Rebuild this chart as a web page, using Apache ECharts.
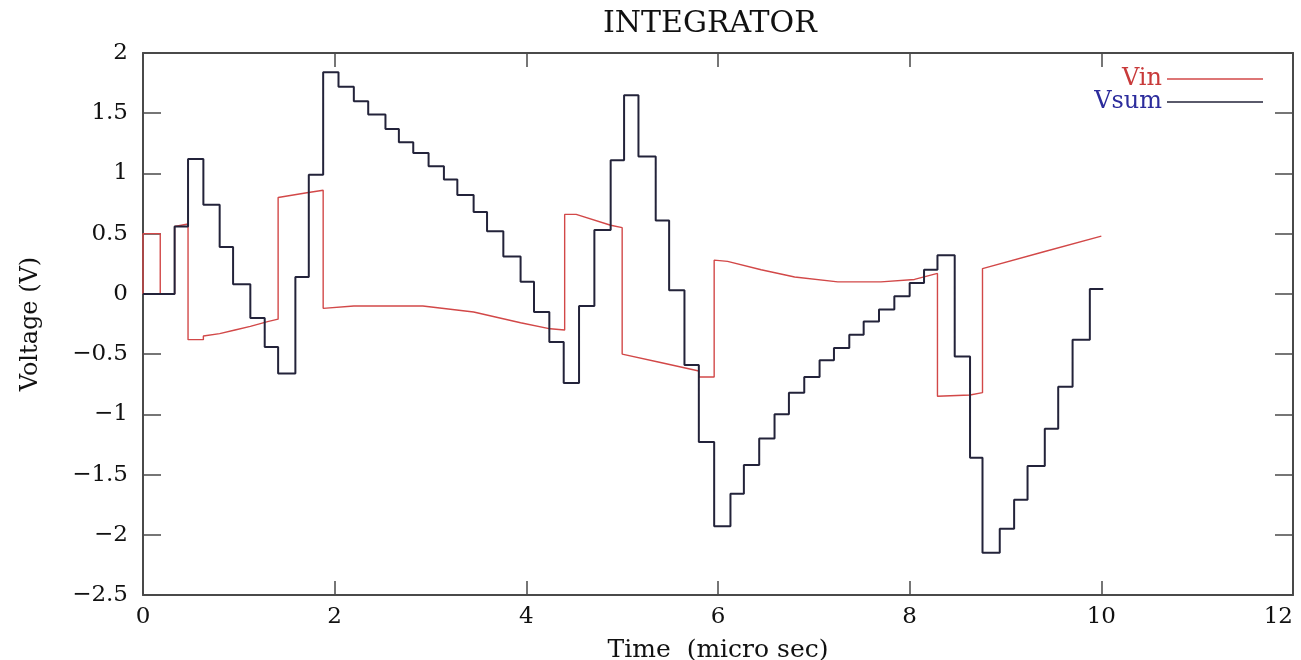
<!DOCTYPE html>
<html>
<head>
<meta charset="utf-8">
<script src="https://cdn.jsdelivr.net/npm/echarts@6/dist/echarts.min.js"></script>
<style>
html,body{margin:0;padding:0;background:#fff;}
#chart{width:1301px;height:660px;}
</style>
</head>
<body>
<div id="chart"></div>
<script>
// ---- data ----
var titleText = 'INTEGRATOR';
var xAxisName = 'Time  (micro sec)';
var yAxisName = 'Voltage (V)';
var xTicks = [0, 2, 4, 6, 8, 10, 12];
var xTickLabels = ['0', '2', '4', '6', '8', '10', '12'];
var yTicks = [2, 1.5, 1, 0.5, 0, -0.5, -1, -1.5, -2, -2.5];
var yTickLabels = ['2', '1.5', '1', '0.5', '0', '\u22120.5', '\u22121', '\u22121.5', '\u22122', '\u22122.5'];

// Vin (red): path points [time, voltage]
var vinT = [0, 0, 0.18, 0.18, 0.33, 0.33, 0.47, 0.47, 0.63, 0.63, 0.80, 0.96, 1.12, 1.30, 1.41, 1.41, 1.71, 1.88, 1.88, 2.20, 2.92, 3.45, 3.94, 4.25, 4.40, 4.40, 4.52, 4.88, 5.00, 5.00, 5.40, 5.80, 5.80, 5.96, 5.96, 6.10, 6.45, 6.80, 7.25, 7.70, 8.05, 8.29, 8.29, 8.63, 8.76, 8.76, 9.40, 10.00];
var vinV = [0, 0.50, 0.50, 0, 0, 0.56, 0.58, -0.38, -0.38, -0.35, -0.33, -0.30, -0.27, -0.23, -0.21, 0.80, 0.84, 0.86, -0.12, -0.10, -0.10, -0.15, -0.24, -0.29, -0.30, 0.66, 0.66, 0.57, 0.55, -0.50, -0.57, -0.64, -0.69, -0.69, 0.28, 0.27, 0.20, 0.14, 0.10, 0.10, 0.12, 0.17, -0.85, -0.84, -0.82, 0.21, 0.35, 0.48];

// Vsum (stepped): level starting at each time
var vsumT = [0, 0.33, 0.47, 0.63, 0.80, 0.94, 1.12, 1.27, 1.41, 1.59, 1.73, 1.88, 2.04, 2.20, 2.35, 2.53, 2.67, 2.82, 2.98, 3.14, 3.28, 3.45, 3.59, 3.76, 3.94, 4.08, 4.24, 4.39, 4.55, 4.71, 4.88, 5.02, 5.17, 5.35, 5.49, 5.65, 5.80, 5.96, 6.13, 6.27, 6.43, 6.59, 6.74, 6.90, 7.06, 7.21, 7.37, 7.52, 7.68, 7.84, 8.00, 8.15, 8.29, 8.47, 8.63, 8.76, 8.94, 9.09, 9.23, 9.41, 9.55, 9.70, 9.88, 10.02];
var vsumV = [0, 0.56, 1.12, 0.74, 0.39, 0.08, -0.20, -0.44, -0.66, 0.14, 0.99, 1.84, 1.72, 1.60, 1.49, 1.37, 1.26, 1.17, 1.06, 0.95, 0.82, 0.68, 0.52, 0.31, 0.10, -0.15, -0.40, -0.74, -0.10, 0.53, 1.11, 1.65, 1.14, 0.61, 0.03, -0.59, -1.23, -1.93, -1.66, -1.42, -1.20, -1.00, -0.82, -0.69, -0.55, -0.45, -0.34, -0.23, -0.13, -0.02, 0.09, 0.20, 0.32, -0.52, -1.36, -2.15, -1.95, -1.71, -1.43, -1.12, -0.77, -0.38, 0.04, 0.04];

function zip(a, b) { var r = []; for (var i = 0; i < a.length; i++) r.push([a[i], b[i]]); return r; }
function labelFor(ticks, labels) {
  return function (v) {
    for (var i = 0; i < ticks.length; i++) if (Math.abs(ticks[i] - v) < 1e-9) return labels[i];
    return '';
  };
}

var FONT = 'DejaVu Serif';
var AX = '#4a4a4a';
var chart = echarts.init(document.getElementById('chart'), null, {renderer: 'canvas'});

var baseX = {
  type: 'value', min: 0, max: 12, interval: 2,
  axisLine: {show: true, onZero: false, lineStyle: {color: AX, width: 2}},
  axisTick: {show: true, inside: true, length: 14, lineStyle: {color: AX, width: 1.5}},
  splitLine: {show: false}
};
var baseY = {
  type: 'value', min: -2.5, max: 2, interval: 0.5,
  axisLine: {show: true, onZero: false, lineStyle: {color: AX, width: 2}},
  axisTick: {show: true, inside: true, length: 18, lineStyle: {color: AX, width: 1.5}},
  splitLine: {show: false}
};

var option = {
  animation: false,
  backgroundColor: '#ffffff',
  title: {
    text: titleText, left: 598, top: 4,
    textStyle: {fontFamily: FONT, fontSize: 30, fontWeight: 'normal', color: '#111'}
  },
  legend: [
    {
      data: [{name: 'Vin', textStyle: {color: '#c83a3a'}}],
      right: 33, top: 62, align: 'right', icon: 'rect',
      itemWidth: 96, itemHeight: 1.5, itemGap: 6,
      textStyle: {fontFamily: FONT, fontSize: 24}
    },
    {
      data: [{name: 'Vsum', textStyle: {color: '#2c2c9c'}}],
      right: 33, top: 85, align: 'right', icon: 'rect',
      itemWidth: 96, itemHeight: 1.5, itemGap: 6,
      textStyle: {fontFamily: FONT, fontSize: 24}
    }
  ],
  grid: {left: 143, right: 8, top: 53, bottom: 65, outerBoundsMode: 'none', containLabel: false},
  xAxis: [
    Object.assign({}, baseX, {
      position: 'bottom',
      name: xAxisName, nameLocation: 'middle', nameGap: 43,
      nameTextStyle: {fontFamily: FONT, fontSize: 25, color: '#111'},
      axisLabel: {show: true, margin: 11, fontFamily: FONT, fontSize: 23, color: '#111',
                  alignMaxLabel: 'right',
                  formatter: labelFor(xTicks, xTickLabels)}
    }),
    Object.assign({}, baseX, {position: 'top', axisLabel: {show: false}})
  ],
  yAxis: [
    Object.assign({}, baseY, {
      position: 'left',
      name: yAxisName, nameLocation: 'middle', nameGap: 100, nameRotate: 90,
      nameTextStyle: {fontFamily: FONT, fontSize: 24, color: '#111'},
      axisLabel: {show: true, margin: 15, fontFamily: FONT, fontSize: 23, color: '#111',
                  formatter: labelFor(yTicks, yTickLabels)}
    }),
    Object.assign({}, baseY, {position: 'right', axisLabel: {show: false}})
  ],
  series: [
    {
      name: 'Vin', type: 'line', xAxisIndex: 0, yAxisIndex: 0,
      data: zip(vinT, vinV), showSymbol: false, symbol: 'none',
      lineStyle: {color: '#d24848', width: 1.4}, itemStyle: {color: '#d24848'}, z: 2
    },
    {
      name: 'Vsum', type: 'line', xAxisIndex: 0, yAxisIndex: 0, step: 'end',
      data: zip(vsumT, vsumV), showSymbol: false, symbol: 'none',
      lineStyle: {color: '#23233a', width: 2}, itemStyle: {color: '#23233a'}, z: 3
    }
  ]
};
chart.setOption(option);
</script>
</body>
</html>
